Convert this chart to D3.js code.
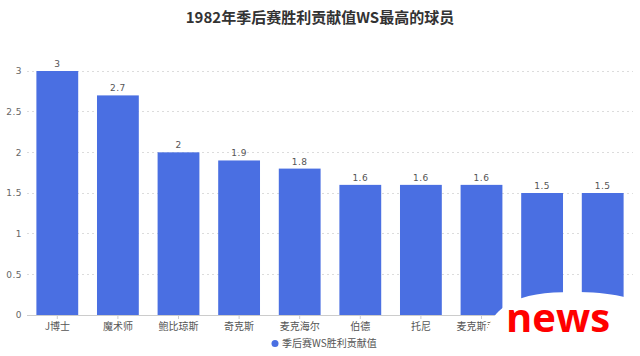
<!DOCTYPE html>
<html><head><meta charset="utf-8">
<script src="https://cdn.jsdelivr.net/npm/d3@7"></script>
<style>body{margin:0;background:#fff}svg{display:block}</style>
</head><body>
<svg id="c" width="640" height="356"></svg>
<script>
const title = "1982年季后赛胜利贡献值WS最高的球员";
const seriesName = "季后赛WS胜利贡献值";
const players = ["J博士","魔术师","鲍比琼斯","奇克斯","麦克海尔","伯德","托尼","麦克斯韦尔","贾巴尔","尼克松"];
const ws = [3, 2.7, 2, 1.9, 1.8, 1.6, 1.6, 1.6, 1.5, 1.5];
const yTicks = [0, 0.5, 1, 1.5, 2, 2.5, 3];
const watermarkCoversFrom = 8; // categories from this index have their labels under the "news" watermark

const svg = d3.select("#c");
const font = "'Noto Sans CJK SC','Noto Sans',sans-serif";
const m = {l:27, r:7, t:71, b:41};
const W = 640, H = 356;
const x = d3.scaleBand().domain(players).range([m.l, W - m.r]).paddingInner(0.31).paddingOuter(0.155);
const y = d3.scaleLinear().domain([0, 3]).range([H - m.b, m.t]);
const color = "#4a6fe2";

// title
svg.append("text").attr("x", 320).attr("y", 23).attr("text-anchor", "middle")
  .attr("font-family", font).attr("font-weight", "bold").attr("font-size", 15)
  .attr("fill", "#333").text(title);

// grid
svg.append("g").selectAll("line").data(yTicks.filter(d => d > 0)).join("line")
  .attr("x1", m.l).attr("x2", W - m.r).attr("y1", d => y(d)).attr("y2", d => y(d))
  .attr("stroke", "#dcdcdc").attr("stroke-dasharray", "2,3").attr("stroke-width", 1)
  .attr("shape-rendering", "crispEdges");

// y axis labels
const ya = svg.append("g").attr("transform", `translate(${m.l},0)`)
  .call(d3.axisLeft(y).tickValues(yTicks).tickSize(0).tickPadding(5).tickFormat(d => String(d)));
ya.select(".domain").remove();
ya.selectAll("text").attr("font-family", "'DejaVu Sans',sans-serif").attr("font-size", 9)
  .attr("fill", "#666").attr("letter-spacing", 0.5);

// bars
svg.append("g").selectAll("rect").data(players).join("rect")
  .attr("x", d => x(d)).attr("width", x.bandwidth())
  .attr("y", (d, i) => y(ws[i])).attr("height", (d, i) => y(0) - y(ws[i]))
  .attr("fill", color);

// value labels
svg.append("g").selectAll("text").data(players).join("text")
  .attr("x", d => x(d) + x.bandwidth() / 2).attr("y", (d, i) => y(ws[i]) - 4)
  .attr("text-anchor", "middle").attr("font-family", "'DejaVu Sans',sans-serif")
  .attr("font-size", 9).attr("letter-spacing", 0.5).attr("fill", "#555")
  .text((d, i) => String(ws[i]));

// x axis
const xa = svg.append("g").attr("transform", `translate(0,${y(0)})`)
  .call(d3.axisBottom(x).tickSize(4).tickPadding(4).tickSizeOuter(0));
xa.select(".domain").attr("stroke", "#ccc").attr("d", `M${m.l},0.5H${W - m.r}`);
xa.selectAll(".tick line").attr("stroke", "#ccc");
xa.selectAll("text").attr("font-family", font).attr("font-size", 10).attr("fill", "#555");
// labels that lie fully under the watermark are not visible in the reference
xa.selectAll(".tick").filter((d, i) => i >= watermarkCoversFrom).select("text").remove();

// legend
const lg = svg.append("g");
lg.append("circle").attr("cx", 275).attr("cy", 343.5).attr("r", 3.5).attr("fill", color);
lg.append("text").attr("x", 282).attr("y", 347).attr("font-family", font)
  .attr("font-size", 10).attr("fill", "#555").text(seriesName);

// watermark
svg.append("path")
  .attr("d", "M483,356 C483,302 522,292 572,292 C612,292 640,298 640,308 L640,356 Z")
  .attr("fill", "#fff");
svg.append("text").attr("x", 558).attr("y", 332).attr("text-anchor", "middle")
  .attr("font-family", "'Open Sans',sans-serif").attr("font-weight", "bold")
  .attr("font-size", 40).attr("fill", "#ff0000").text("news");
</script>
</body></html>
